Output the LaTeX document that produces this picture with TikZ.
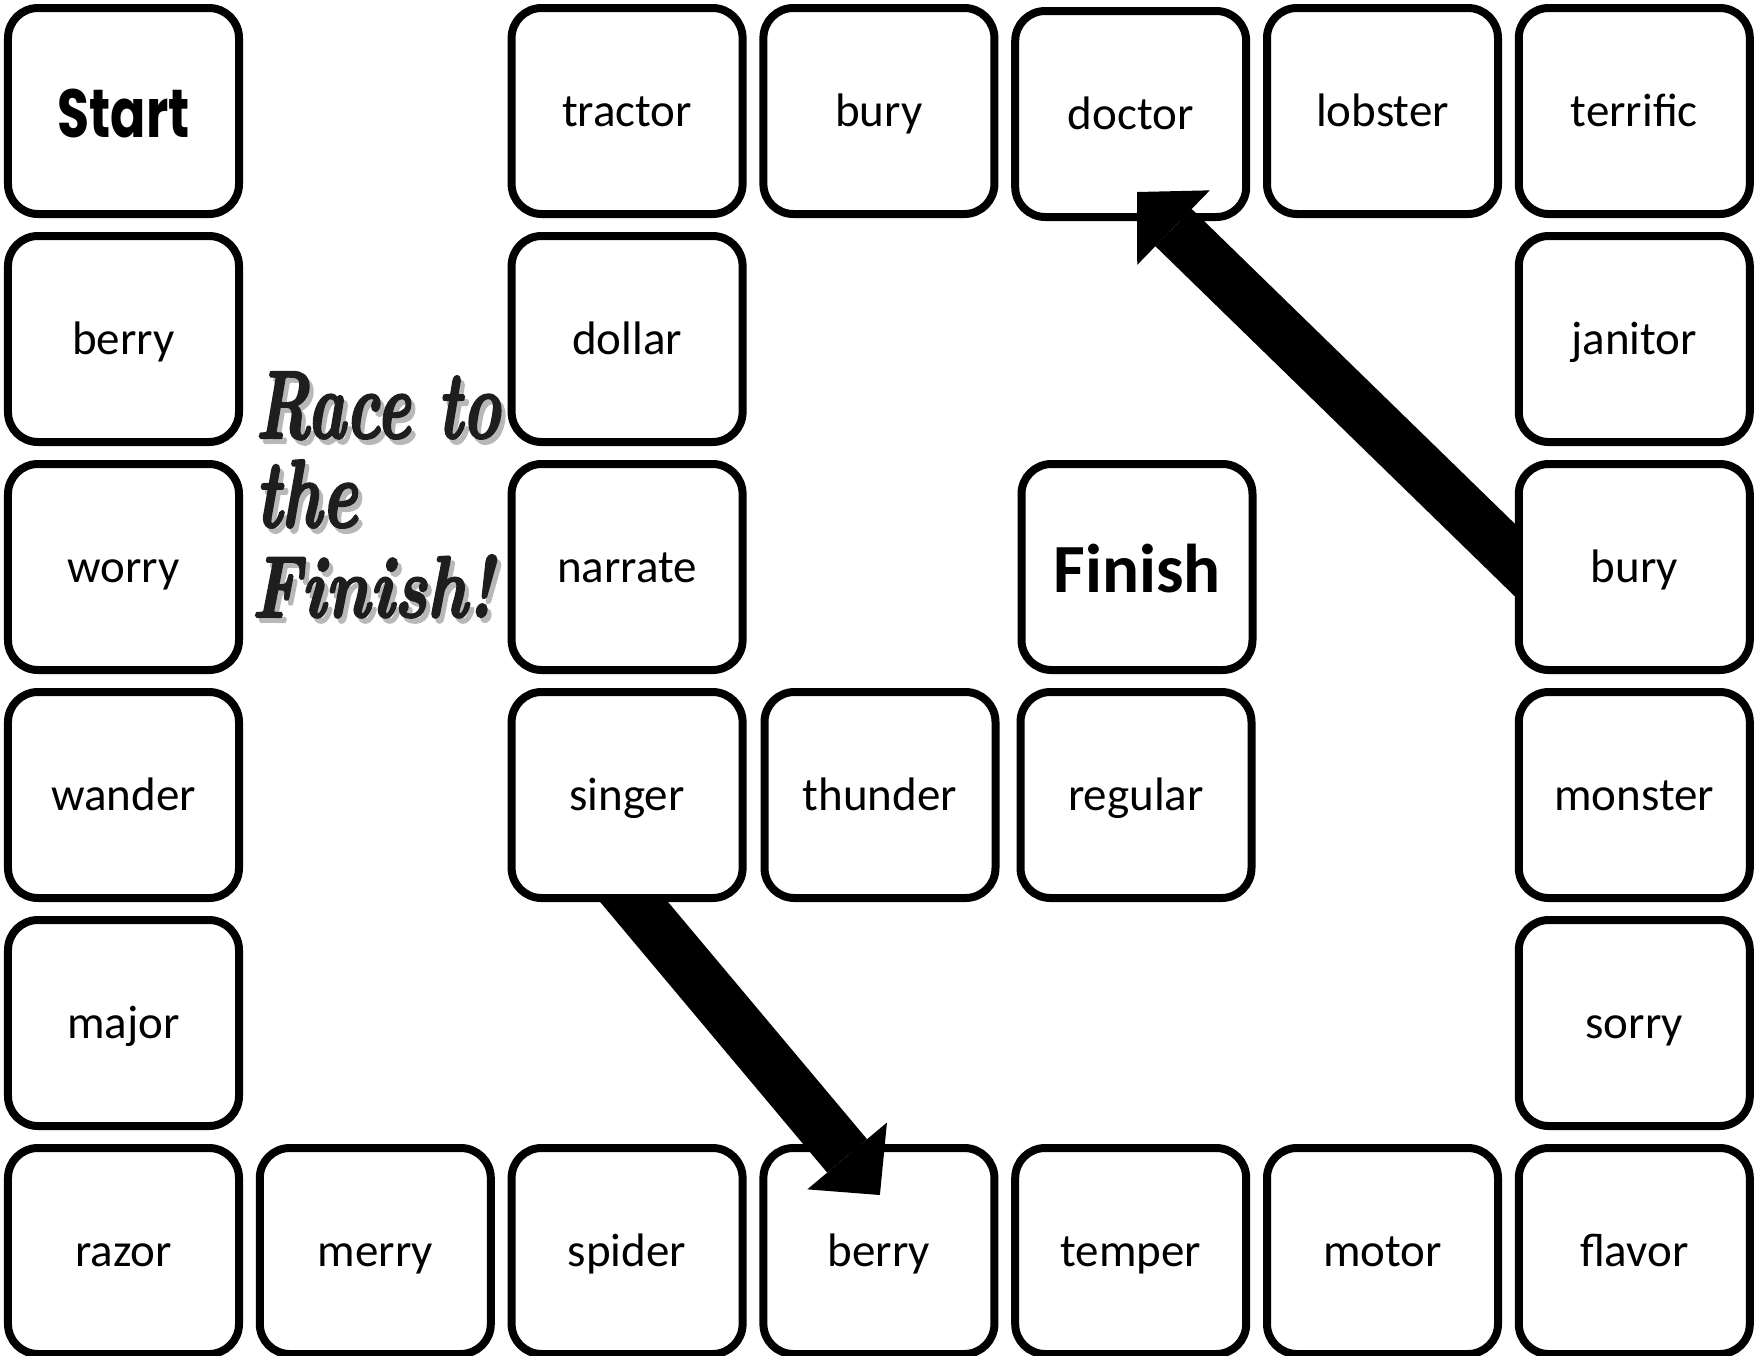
\documentclass[tikz,border=0pt]{standalone}
\usepackage{fontspec}
\usetikzlibrary{arrows.meta,calc}
\newfontfamily\wordfont{Carlito}
\newfontfamily\startfont{Poppins}
\newfontfamily\racefont{lmroman10-bolditalic.otf}[FakeBold=2.5]
\definecolor{raceink}{HTML}{1E1E1E}
\newcommand\racetext[3]{% width, height, text
  \rlap{\hspace{1.6pt}\raisebox{-2pt}{\color{black!28}\resizebox{#1}{#2}{#3}}}%
  \resizebox{#1}{#2}{#3}}
\begin{document}
\begin{tikzpicture}[x=0.4pt,y=-0.4pt,
  tile/.style={draw=black, line width=3.2pt, rounded corners=12pt, fill=white,
    minimum width=92.4pt, minimum height=82.4pt, inner sep=0pt,
    text height=12pt, text depth=0pt,
    font=\wordfont\fontsize{18.8pt}{22pt}\selectfont},
  starttile/.style={tile, text height=20.8pt},
  finishtile/.style={tile, text height=20.4pt,
    font=\wordfont\bfseries\fontsize{27.6pt}{32pt}\selectfont},
  race/.style={anchor=base west, inner sep=0pt, text=raceink, font=\racefont},
  bigarrow/.style={draw=black, line width=20.8pt,
    -{Triangle[length=20.4pt,width=41.6pt,line width=0pt 0 0]}}]
\useasboundingbox (0,0) rectangle (1754,1355);
\clip (0,0) rectangle (1754,1355);

% top row
\node[starttile] (start) at (123.5,111) {\resizebox{52.8pt}{19.4pt}{\startfont\bfseries Start}};
\node[tile] (tractor) at (627.1,111) {tractor};
\node[tile] (buryA) at (878.9,111) {bury};
\node[tile] (doctor) at (1130.7,114) {doctor};
\node[tile] (lobster) at (1382.5,111) {lobster};
\node[tile] (terrific) at (1634.3,111) {terrific};
% row 1
\node[tile] (berryA) at (123.5,339) {berry};
\node[tile] (dollar) at (627.1,339) {dollar};
\node[tile] (janitor) at (1634.3,339) {janitor};
% row 2
\node[tile] (worry) at (123.5,567) {worry};
\node[tile] (narrate) at (627.1,567) {narrate};
\node[finishtile] (finish) at (1137,567) {Finish};
\node[tile] (buryB) at (1634.3,567) {bury};
% row 3
\node[tile] (wander) at (123.5,795) {wander};
\node[tile] (singer) at (627.1,795) {singer};
\node[tile] (thunder) at (880,795) {thunder};
\node[tile] (regular) at (1136,795) {regular};
\node[tile] (monster) at (1634.3,795) {monster};
% row 4
\node[tile] (major) at (123.5,1023) {major};
\node[tile] (sorry) at (1634.3,1023) {sorry};
% bottom row
\node[tile] (razor) at (123.5,1251) {razor};
\node[tile] (merry) at (375.3,1251) {merry};
\node[tile] (spider) at (627.1,1251) {spider};
\node[tile] (berryB) at (878.9,1251) {berry};
\node[tile] (temper) at (1130.7,1251) {temper};
\node[tile] (motor) at (1382.5,1251) {motor};
\node[tile] (flavor) at (1634.3,1251) {flavor};

% title with soft shadow
\node[race] (race1) at (255,438) {\racetext{98pt}{26.4pt}{Race to}};
\node[race] (race2) at (255,527) {\racetext{40.8pt}{26.8pt}{the}};
\node[race] (race3) at (251,617) {\racetext{96.8pt}{24.8pt}{Finish!}};

% arrow singer -> berry
\coordinate (a1s) at ($(singer.south)+(7,0)$);
\coordinate (a1t) at ($(berryB.north)+(1,51)$);
\begin{scope}
  \clip (singer.south west) rectangle (berryB.south east);
  \draw[bigarrow] ($(a1s)!-16pt!(a1t)$) -- (a1t);
\end{scope}

% arrow bury -> doctor
\coordinate (a2s) at ($(buryB.west)+(0,-7)$);
\coordinate (a2t) at ($(doctor.south)+(6.3,-29)$);
\begin{scope}
  \clip (doctor.north west) rectangle (buryB.south west);
  \draw[bigarrow] ($(a2s)!-16pt!(a2t)$) -- (a2t);
\end{scope}
\end{tikzpicture}
\end{document}
